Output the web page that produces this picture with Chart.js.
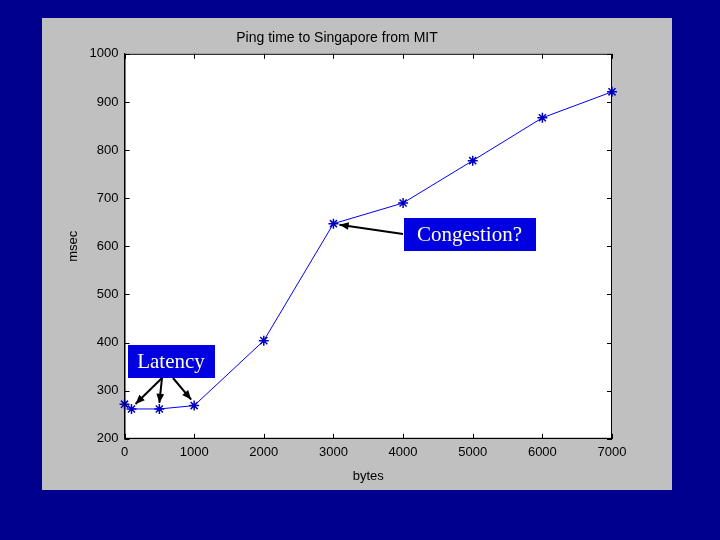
<!DOCTYPE html><html><head><script src="https://cdn.jsdelivr.net/npm/chart.js@4/dist/chart.umd.min.js"></script>
<style>html,body{margin:0;padding:0;background:#00008f}</style></head><body>
<canvas id="c" width="720" height="540" style="width:720px;height:540px"></canvas>
<script>
const bytes=[0,100,500,1000,2000,3000,4000,5000,6000,7000];
const msec=[272,262,262,269,404,647,690,778,867,921];
const xTicks=[0,1000,2000,3000,4000,5000,6000,7000];
const bg={id:'bg',beforeDraw(c){const x=c.ctx;x.save();x.fillStyle='#00008f';x.fillRect(0,0,720,540);x.fillStyle='#c0c0c0';x.fillRect(42,18,630,472);const a=c.chartArea;x.fillStyle='#fff';x.fillRect(a.left,a.top,a.right-a.left,a.bottom-a.top);x.restore();},
afterDatasetsDraw(c){const x=c.ctx,a=c.chartArea,sx=c.scales.x,sy=c.scales.y;x.save();x.strokeStyle='#000';x.lineWidth=1;x.strokeRect(a.left+.5,a.top+.5,a.right-a.left-1,a.bottom-a.top-1);x.beginPath();
xTicks.forEach(v=>{const p=Math.round(sx.getPixelForValue(v))+.5;x.moveTo(p,a.bottom);x.lineTo(p,a.bottom-5);x.moveTo(p,a.top);x.lineTo(p,a.top+5);});
for(let v=200;v<=1000;v+=100){const p=Math.round(sy.getPixelForValue(v))+.5;x.moveTo(a.left,p);x.lineTo(a.left+5,p);x.moveTo(a.right,p);x.lineTo(a.right-5,p);}x.stroke();x.restore();},
afterDraw(c){const x=c.ctx,sx=c.scales.x,sy=c.scales.y;x.save();
function box(l,t,w,h,txt){x.fillStyle='#0000e0';x.fillRect(l,t,w,h);x.strokeStyle='#fff';x.lineWidth=1;x.strokeRect(l+.5,t+.5,w,h);x.fillStyle='#ffffd8';x.font='21px "Liberation Serif"';x.textAlign='center';x.textBaseline='middle';x.fillText(txt,l+w/2,t+h/2+1);}
function arrow(x0,y0,x1,y1){x.strokeStyle='#000';x.fillStyle='#000';x.lineWidth=2;x.beginPath();x.moveTo(x0,y0);x.lineTo(x1,y1);x.stroke();const an=Math.atan2(y1-y0,x1-x0),L=10;x.beginPath();x.moveTo(x1,y1);x.lineTo(x1-L*Math.cos(an-0.4),y1-L*Math.sin(an-0.4));x.lineTo(x1-L*Math.cos(an+0.4),y1-L*Math.sin(an+0.4));x.closePath();x.fill();}
box(127,344,88,34,'Latency');
arrow(162,378,sx.getPixelForValue(100)+4,sy.getPixelForValue(262)-5);
arrow(162,378,sx.getPixelForValue(500),sy.getPixelForValue(262)-6);
arrow(173,378,sx.getPixelForValue(1000)-3,sy.getPixelForValue(269)-6);
box(403,217,133,34,'Congestion?');
arrow(403,234,sx.getPixelForValue(3000)+6,sy.getPixelForValue(647)+1);
x.restore();}};
new Chart(document.getElementById('c'),{type:'scatter',data:{datasets:[{data:bytes.map((b,i)=>({x:b,y:msec[i]})),showLine:true,clip:false,borderColor:'#0000ff',borderWidth:1,pointStyle:'star',pointRadius:5,pointBorderColor:'#0000c0',pointBorderWidth:1.5,backgroundColor:'#0000ff'}]},
options:{responsive:false,animation:false,layout:{padding:{left:62,right:108,top:30,bottom:52}},
plugins:{legend:{display:false},tooltip:{enabled:false},title:{display:true,text:'Ping time to Singapore from MIT',color:'#000',font:{family:'Arial',size:14,weight:'normal'},padding:{top:0,bottom:7}}},
scales:{x:{type:'linear',min:0,max:7000,afterBuildTicks:a=>{a.ticks=xTicks.map(v=>({value:v}))},grid:{display:false,drawTicks:false},border:{color:'#000'},ticks:{color:'#000',font:{family:'Arial',size:13},padding:6,maxRotation:0,callback:v=>String(v)},title:{display:true,text:'bytes',color:'#000',font:{family:'Arial',size:13},padding:{top:2}}},
y:{min:200,max:1000,grid:{display:false,drawTicks:false},border:{color:'#000'},ticks:{stepSize:100,color:'#000',font:{family:'Arial',size:13},padding:6,callback:v=>String(v)},title:{display:true,text:'msec',color:'#000',font:{family:'Arial',size:13},padding:{bottom:2}}}}},
plugins:[bg]});
</script></body></html>
